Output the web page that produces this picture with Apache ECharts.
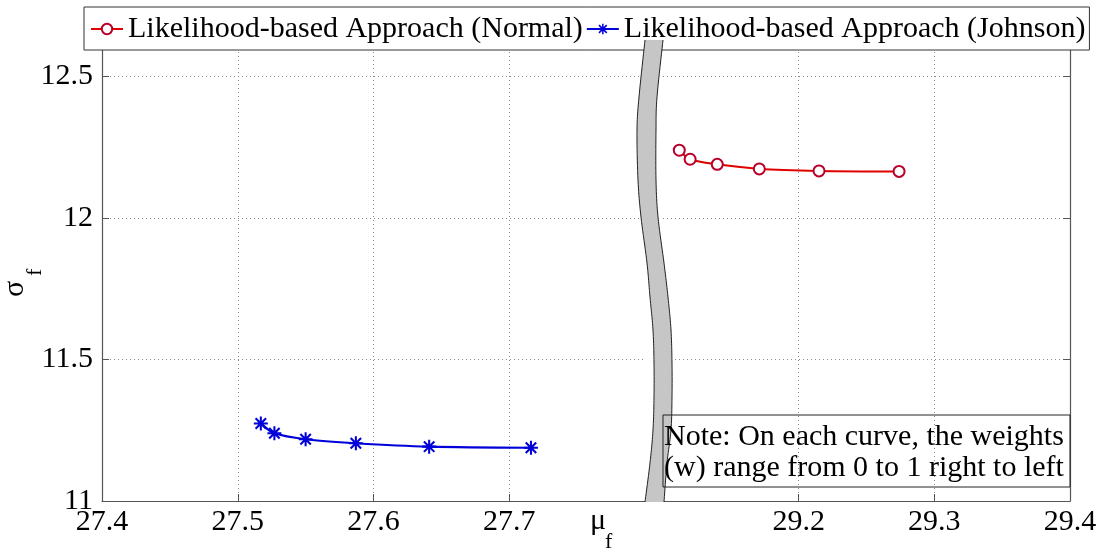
<!DOCTYPE html>
<html><head><meta charset="utf-8">
<script src="https://cdn.jsdelivr.net/npm/echarts@6/dist/echarts.min.js"></script>
<style>html,body{margin:0;padding:0;background:#fff}#c{width:1105px;height:557px}</style>
</head><body><div id="c"></div>
<script>
// ---- data ----
const seriesNames = ['Likelihood-based Approach (Normal)', 'Likelihood-based Approach (Johnson)'];
const normalMu = [29.112, 29.120, 29.140, 29.171, 29.215, 29.274];
const normalSigma = [12.239, 12.207, 12.189, 12.173, 12.166, 12.164];
const johnsonMu = [27.517, 27.527, 27.550, 27.587, 27.641, 27.716];
const johnsonSigma = [11.274, 11.239, 11.218, 11.204, 11.192, 11.188];
const leftTicks = [27.4, 27.5, 27.6, 27.7];
const rightTicks = [29.2, 29.3, 29.4];
const noteLines = ['Note: On each curve, the weights', '(w) range from 0 to 1 right to left'];
const xTitle = ['\u03bc', 'f'];
const yTitle = ['\u03c3', 'f'];

// ---- styles / layout ----
const FONT = "'Liberation Serif', 'Times New Roman', serif";
const AX = '#555';
const GRIDC = '#8a8a8a';
const RED = '#e00000';
const BLUE = '#0000d8';
const STAR = 'path://M8.6 0.5H11.4V19.5H8.6Z M0.5 8.6H19.5V11.4H0.5Z M3.9 1.9L18.1 16.1L16.1 18.1L1.9 3.9Z M16.1 1.9L18.1 3.9L3.9 18.1L1.9 16.1Z';

const zip = (a, b) => a.map((v, i) => [v, b[i]]);

function xAxisCfg(grid, min, max, ticks) {
  return {
    type: 'value', gridIndex: grid, min: min, max: max, interval: 0.1,
    axisLine: { show: true, onZero: false, lineStyle: { color: AX, width: 1.2 } },
    axisTick: { show: true, inside: true, length: 7, customValues: ticks, lineStyle: { color: AX } },
    axisLabel: { show: true, customValues: ticks, margin: 6, fontFamily: FONT, fontSize: 30, color: '#000',
      formatter: v => v.toFixed(1) },
    splitLine: { show: true, customValues: ticks, lineStyle: { color: GRIDC, type: [1, 3], width: 1 } }
  };
}
function yAxisCfg(grid, pos, labels) {
  return {
    type: 'value', gridIndex: grid, position: pos, min: 11, max: 12.6, interval: 0.5,
    axisLine: { show: true, onZero: false, lineStyle: { color: AX, width: 1.2 } },
    axisTick: { show: true, inside: true, length: 7, lineStyle: { color: AX } },
    axisLabel: { show: labels, showMaxLabel: false, margin: 9, fontFamily: FONT, fontSize: 30, color: '#000',
      formatter: v => String(v) },
    splitLine: { show: true, lineStyle: { color: GRIDC, type: [1, 3], width: 1 } }
  };
}

// break band (decoration)
const bandLeft = [[645,40],[639,97],[637,130],[638,180],[641,217],[647,263],[650,297],[653,330],[654,363],[654,397],[653,430],[650,463],[645,502]];
const bandRight = [[663,40],[657,97],[656,130],[656,180],[658,217],[664,263],[668,297],[671,330],[672,363],[672,397],[671,430],[667,463],[664,502]];
function densify(pts) {
  const out = [];
  for (let i = 0; i < pts.length - 1; i++) {
    const p0 = pts[Math.max(0, i - 1)], p1 = pts[i], p2 = pts[i + 1], p3 = pts[Math.min(pts.length - 1, i + 2)];
    for (let t = 0; t < 1; t += 0.1) {
      const t2 = t * t, t3 = t2 * t;
      const f = k => 0.5 * ((2 * p1[k]) + (-p0[k] + p2[k]) * t + (2 * p0[k] - 5 * p1[k] + 4 * p2[k] - p3[k]) * t2 + (-p0[k] + 3 * p1[k] - 3 * p2[k] + p3[k]) * t3);
      out.push([f(0), f(1)]);
    }
  }
  out.push(pts[pts.length - 1]);
  return out;
}
const L = densify(bandLeft), R = densify(bandRight);

const chart = echarts.init(document.getElementById('c'), null, { renderer: 'canvas' });
chart.setOption({
  backgroundColor: '#fff',
  animation: false,
  grid: [
    { left: 102, top: 48, width: 543, bottom: 56, containLabel: false },
    { left: 663, top: 48, width: 407, bottom: 56, containLabel: false }
  ],
  xAxis: [
    xAxisCfg(0, 27.4, 27.8, leftTicks),
    xAxisCfg(1, 29.1, 29.4, rightTicks)
  ],
  yAxis: [
    yAxisCfg(0, 'left', true),
    yAxisCfg(1, 'right', false)
  ],
  legend: {
    data: seriesNames, left: 84, top: 7, orient: 'horizontal',
    padding: [7, 4, 6, 6], itemGap: 3, itemWidth: 32, itemHeight: 13,
    backgroundColor: '#fff', borderColor: '#333', borderWidth: 1, borderRadius: 0,
    selectedMode: false,
    textStyle: { fontFamily: FONT, fontSize: 30, color: '#000' }
  },
  series: [
    {
      name: seriesNames[0], type: 'line', xAxisIndex: 1, yAxisIndex: 1,
      data: zip(normalMu, normalSigma), smooth: 0.3,
      symbol: 'emptyCircle', symbolSize: 11,
      lineStyle: { color: RED, width: 2 },
      itemStyle: { color: '#b8002a', borderColor: '#b8002a', borderWidth: 1.4 }
    },
    {
      name: seriesNames[1], type: 'line', xAxisIndex: 0, yAxisIndex: 0,
      data: zip(johnsonMu, johnsonSigma), smooth: 0.3,
      symbol: STAR, symbolSize: 14,
      lineStyle: { color: BLUE, width: 2.2 },
      itemStyle: { color: BLUE, borderWidth: 0 }
    }
  ],
  graphic: [
    { type: 'polygon', z: 10, shape: { points: L.concat(R.slice().reverse()) }, style: { fill: '#c6c6c6', stroke: null } },
    { type: 'polyline', z: 11, shape: { points: L }, style: { stroke: '#222', lineWidth: 1, fill: null } },
    { type: 'polyline', z: 11, shape: { points: R }, style: { stroke: '#222', lineWidth: 1, fill: null } },
    { type: 'rect', z: 12, shape: { x: 663, y: 415, width: 407, height: 72 }, style: { fill: null, stroke: '#222', lineWidth: 1 } },
    { type: 'text', z: 12, x: 664, y: 437, style: { text: noteLines[0], font: "30px 'Liberation Serif'", fill: '#000', align: 'left', verticalAlign: 'middle' } },
    { type: 'text', z: 12, x: 664, y: 468, style: { text: noteLines[1], font: "30px 'Liberation Serif'", fill: '#000', align: 'left', verticalAlign: 'middle' } },
    { type: 'text', z: 12, x: 590, y: 521, style: { text: xTitle[0], font: "30px 'Liberation Serif'", fill: '#000', align: 'left', verticalAlign: 'middle' } },
    { type: 'text', z: 12, x: 605, y: 542, style: { text: xTitle[1], font: "22px 'Liberation Serif'", fill: '#000', align: 'left', verticalAlign: 'middle' } },
    { type: 'text', z: 12, x: 15, y: 297, rotation: Math.PI / 2, style: { text: yTitle[0], font: "30px 'Liberation Serif'", fill: '#000', align: 'left', verticalAlign: 'middle' } },
    { type: 'text', z: 12, x: 35, y: 276, rotation: Math.PI / 2, style: { text: yTitle[1], font: "22px 'Liberation Serif'", fill: '#000', align: 'left', verticalAlign: 'middle' } }
  ]
});
</script>
</body></html>
